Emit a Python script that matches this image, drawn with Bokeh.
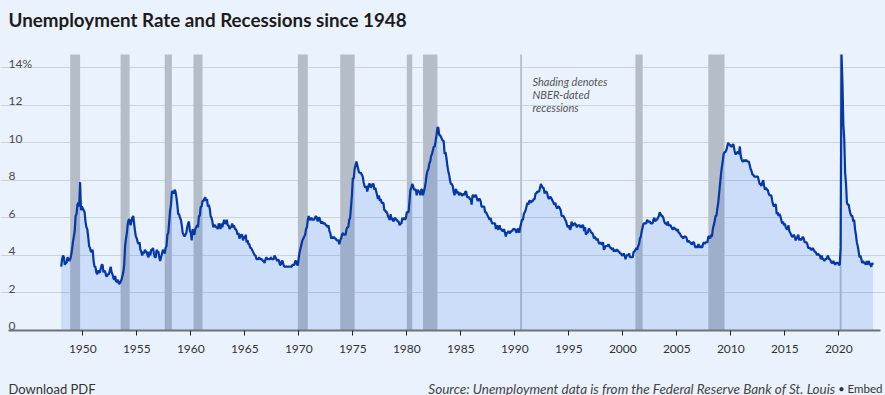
from bokeh.plotting import figure
from bokeh.models import Range1d, FixedTicker, Grid, Label, LinearAxis
from bokeh.embed import file_html
from bokeh.resources import INLINE
from bokeh.core.properties import value

# ---------------- data (monthly unemployment rate, %) ----------------
FIRST_YEAR = 1948
rate_1940s = [3.4, 3.8, 4.0, 3.9, 3.5, 3.6, 3.6, 3.9, 3.8, 3.7, 3.8, 4.0,
              4.3, 4.7, 5.0, 5.3, 6.1, 6.2, 6.7, 6.8, 6.6, 7.9, 6.4, 6.6]
rate_1950s = [6.5, 6.4, 6.3, 5.8, 5.5, 5.4, 5.0, 4.5, 4.4, 4.2, 4.2, 4.3,
              3.7, 3.4, 3.4, 3.1, 3.0, 3.2, 3.1, 3.1, 3.3, 3.5, 3.5, 3.1,
              3.2, 3.1, 2.9, 2.9, 3.0, 3.0, 3.2, 3.4, 3.1, 3.0, 2.8, 2.7,
              2.9, 2.6, 2.6, 2.7, 2.5, 2.5, 2.6, 2.7, 2.9, 3.1, 3.5, 4.5,
              4.9, 5.2, 5.7, 5.9, 5.9, 5.6, 5.8, 6.0, 6.1, 5.7, 5.3, 5.0,
              4.9, 4.7, 4.6, 4.7, 4.3, 4.2, 4.0, 4.2, 4.1, 4.3, 4.2, 4.2,
              4.0, 3.9, 4.2, 4.0, 4.3, 4.3, 4.4, 4.1, 3.9, 3.9, 4.3, 4.2,
              4.2, 3.9, 3.7, 3.9, 4.1, 4.3, 4.2, 4.1, 4.4, 4.5, 5.1, 5.2,
              5.8, 6.4, 6.7, 7.4, 7.4, 7.3, 7.5, 7.4, 7.1, 6.7, 6.2, 6.2,
              6.0, 5.9, 5.6, 5.2, 5.1, 5.0, 5.1, 5.2, 5.5, 5.7, 5.8, 5.3]
rate_1960s = [5.2, 4.8, 5.4, 5.2, 5.1, 5.4, 5.5, 5.6, 5.5, 6.1, 6.1, 6.6,
              6.6, 6.9, 6.9, 7.0, 7.1, 6.9, 7.0, 6.6, 6.7, 6.5, 6.1, 6.0,
              5.8, 5.5, 5.6, 5.6, 5.5, 5.5, 5.4, 5.7, 5.6, 5.4, 5.7, 5.5,
              5.7, 5.9, 5.7, 5.7, 5.9, 5.6, 5.6, 5.4, 5.5, 5.5, 5.7, 5.5,
              5.6, 5.4, 5.4, 5.3, 5.1, 5.2, 4.9, 5.0, 5.1, 5.1, 4.8, 5.0,
              4.9, 5.1, 4.7, 4.8, 4.6, 4.6, 4.4, 4.4, 4.3, 4.2, 4.1, 4.0,
              4.0, 3.8, 3.8, 3.8, 3.9, 3.8, 3.8, 3.8, 3.7, 3.7, 3.6, 3.8,
              3.9, 3.8, 3.8, 3.8, 3.8, 3.9, 3.8, 3.8, 3.8, 4.0, 3.9, 3.8,
              3.7, 3.8, 3.7, 3.5, 3.5, 3.7, 3.7, 3.5, 3.4, 3.4, 3.4, 3.4,
              3.4, 3.4, 3.4, 3.4, 3.4, 3.5, 3.5, 3.5, 3.7, 3.7, 3.5, 3.5]
rate_1970s = [3.9, 4.2, 4.4, 4.6, 4.8, 4.9, 5.0, 5.1, 5.4, 5.5, 5.9, 6.1,
              5.9, 5.9, 6.0, 5.9, 5.9, 5.9, 6.0, 6.1, 6.0, 5.8, 6.0, 6.0,
              5.8, 5.7, 5.8, 5.7, 5.7, 5.7, 5.6, 5.6, 5.5, 5.6, 5.3, 5.2,
              4.9, 5.0, 4.9, 5.0, 4.9, 4.9, 4.8, 4.8, 4.8, 4.6, 4.8, 4.9,
              5.1, 5.2, 5.1, 5.1, 5.1, 5.4, 5.5, 5.5, 5.9, 6.0, 6.6, 7.2,
              8.1, 8.1, 8.6, 8.8, 9.0, 8.8, 8.6, 8.4, 8.4, 8.4, 8.3, 8.2,
              7.9, 7.7, 7.6, 7.7, 7.4, 7.6, 7.8, 7.8, 7.6, 7.7, 7.8, 7.8,
              7.5, 7.6, 7.4, 7.2, 7.0, 7.2, 6.9, 7.0, 6.8, 6.8, 6.8, 6.4,
              6.4, 6.3, 6.3, 6.1, 6.0, 5.9, 6.2, 5.9, 6.0, 5.8, 5.9, 6.0,
              5.9, 5.9, 5.8, 5.8, 5.6, 5.7, 5.7, 6.0, 5.9, 6.0, 5.9, 6.0]
rate_1980s = [6.3, 6.3, 6.3, 6.9, 7.5, 7.6, 7.8, 7.7, 7.5, 7.5, 7.5, 7.2,
              7.5, 7.4, 7.4, 7.2, 7.5, 7.5, 7.2, 7.4, 7.6, 7.9, 8.3, 8.5,
              8.6, 8.9, 9.0, 9.3, 9.4, 9.6, 9.8, 9.8, 10.1, 10.4, 10.8, 10.8,
              10.4, 10.4, 10.3, 10.2, 10.1, 10.1, 9.4, 9.5, 9.2, 8.8, 8.5, 8.3,
              8.0, 7.8, 7.8, 7.7, 7.4, 7.2, 7.5, 7.5, 7.3, 7.4, 7.2, 7.3,
              7.3, 7.2, 7.2, 7.3, 7.2, 7.4, 7.4, 7.1, 7.1, 7.1, 7.0, 7.0,
              6.7, 7.2, 7.2, 7.1, 7.2, 7.2, 7.0, 6.9, 7.0, 7.0, 6.9, 6.6,
              6.6, 6.6, 6.6, 6.3, 6.3, 6.2, 6.1, 6.0, 5.9, 6.0, 5.8, 5.7,
              5.7, 5.7, 5.7, 5.4, 5.6, 5.4, 5.4, 5.6, 5.4, 5.4, 5.3, 5.3,
              5.4, 5.2, 5.0, 5.2, 5.2, 5.3, 5.2, 5.2, 5.3, 5.3, 5.4, 5.4]
rate_1990s = [5.4, 5.3, 5.2, 5.4, 5.4, 5.2, 5.5, 5.7, 5.9, 5.9, 6.2, 6.3,
              6.4, 6.6, 6.8, 6.7, 6.9, 6.9, 6.8, 6.9, 6.9, 7.0, 7.0, 7.3,
              7.3, 7.4, 7.4, 7.4, 7.6, 7.8, 7.7, 7.6, 7.6, 7.3, 7.4, 7.4,
              7.3, 7.1, 7.0, 7.1, 7.1, 7.0, 6.9, 6.8, 6.7, 6.8, 6.6, 6.5,
              6.6, 6.6, 6.5, 6.4, 6.1, 6.1, 6.1, 6.0, 5.9, 5.8, 5.6, 5.5,
              5.6, 5.4, 5.4, 5.8, 5.6, 5.6, 5.7, 5.7, 5.6, 5.5, 5.6, 5.6,
              5.6, 5.5, 5.5, 5.6, 5.6, 5.3, 5.5, 5.1, 5.2, 5.2, 5.4, 5.4,
              5.3, 5.2, 5.2, 5.1, 4.9, 5.0, 4.9, 4.8, 4.9, 4.7, 4.6, 4.7,
              4.6, 4.6, 4.7, 4.3, 4.4, 4.5, 4.5, 4.5, 4.6, 4.5, 4.4, 4.4,
              4.3, 4.4, 4.2, 4.3, 4.2, 4.3, 4.3, 4.2, 4.2, 4.1, 4.1, 4.0]
rate_2000s = [4.0, 4.1, 4.0, 3.8, 4.0, 4.0, 4.0, 4.1, 3.9, 3.9, 3.9, 3.9,
              4.2, 4.2, 4.3, 4.4, 4.3, 4.5, 4.6, 4.9, 5.0, 5.3, 5.5, 5.7,
              5.7, 5.7, 5.7, 5.9, 5.8, 5.8, 5.8, 5.7, 5.7, 5.7, 5.9, 6.0,
              5.8, 5.9, 5.9, 6.0, 6.1, 6.3, 6.2, 6.1, 6.1, 6.0, 5.8, 5.7,
              5.7, 5.6, 5.8, 5.6, 5.6, 5.6, 5.5, 5.4, 5.4, 5.5, 5.4, 5.4,
              5.3, 5.4, 5.2, 5.2, 5.1, 5.0, 5.0, 4.9, 5.0, 5.0, 5.0, 4.9,
              4.7, 4.8, 4.7, 4.7, 4.6, 4.6, 4.7, 4.7, 4.5, 4.4, 4.5, 4.4,
              4.6, 4.5, 4.4, 4.5, 4.4, 4.6, 4.7, 4.6, 4.7, 4.7, 4.7, 5.0,
              5.0, 4.9, 5.1, 5.0, 5.4, 5.6, 5.8, 6.1, 6.1, 6.5, 6.8, 7.3,
              7.8, 8.3, 8.7, 9.0, 9.4, 9.5, 9.5, 9.6, 9.8, 10.0, 9.9, 9.9]
rate_2010s = [9.8, 9.8, 9.9, 9.9, 9.6, 9.4, 9.4, 9.5, 9.5, 9.4, 9.8, 9.3,
              9.1, 9.0, 9.0, 9.1, 9.0, 9.1, 9.0, 9.0, 9.0, 8.8, 8.6, 8.5,
              8.3, 8.3, 8.2, 8.2, 8.2, 8.2, 8.2, 8.0, 7.8, 7.8, 7.7, 7.9,
              8.0, 7.7, 7.5, 7.6, 7.5, 7.5, 7.3, 7.2, 7.2, 7.2, 6.9, 6.7,
              6.6, 6.7, 6.7, 6.2, 6.3, 6.1, 6.2, 6.1, 5.9, 5.7, 5.8, 5.6,
              5.7, 5.5, 5.4, 5.4, 5.6, 5.3, 5.2, 5.1, 5.0, 5.0, 5.1, 5.0,
              4.8, 4.9, 5.0, 5.1, 4.8, 4.9, 4.8, 4.9, 5.0, 4.9, 4.7, 4.7,
              4.7, 4.6, 4.4, 4.4, 4.4, 4.3, 4.3, 4.4, 4.3, 4.2, 4.2, 4.1,
              4.0, 4.1, 4.0, 4.0, 3.8, 4.0, 3.8, 3.8, 3.7, 3.8, 3.8, 3.9,
              4.0, 3.8, 3.8, 3.7, 3.6, 3.6, 3.7, 3.6, 3.5, 3.6, 3.6, 3.6]
rate_2020s = [3.5, 3.5, 4.4, 14.7, 13.2, 11.0, 10.2, 8.4, 7.8, 6.8, 6.7, 6.7,
              6.4, 6.2, 6.1, 6.1, 5.8, 5.9, 5.4, 5.1, 4.7, 4.5, 4.2, 3.9,
              4.0, 3.8, 3.6, 3.7, 3.6, 3.6, 3.5, 3.7, 3.5, 3.7, 3.6, 3.5,
              3.4, 3.6, 3.5]

# NBER-dated recessions (shaded), peak month -> trough month as drawn
recession_start = ["1948-11", "1953-07", "1957-08", "1960-04", "1969-12", "1973-11",
                   "1980-01", "1981-07", "1990-07", "2001-03", "2007-12", "2020-02"]
recession_end = ["1949-10", "1954-05", "1958-04", "1961-02", "1970-11", "1975-03",
                 "1980-07", "1982-11", "1990-09", "2001-11", "2009-06", "2020-04"]

x_ticks = [1950, 1955, 1960, 1965, 1970, 1975, 1980, 1985, 1990, 1995, 2000, 2005, 2010, 2015, 2020]
y_ticks = [0, 2, 4, 6, 8, 10, 12, 14]
y_tick_labels = ["0", "2", "4", "6", "8", "10", "12", "14%"]

TITLE = "Unemployment Rate and Recessions since 1948"
NOTE = "Shading denotes\nNBER-dated\nrecessions"
LEFT_FOOT = "Download PDF"
SOURCE = "Source: Unemployment data is from the Federal Reserve Bank of St. Louis"
EMBED = "Embed"

# ---------------- derived ----------------
rates = (rate_1940s + rate_1950s + rate_1960s + rate_1970s + rate_1980s
         + rate_1990s + rate_2000s + rate_2010s + rate_2020s)
dates = [FIRST_YEAR + i / 12.0 for i in range(len(rates))]


def to_year(s):
    y, m = s.split("-")
    return int(y) + (int(m) - 1) / 12.0


rec_left = [to_year(s) for s in recession_start]
rec_right = [to_year(s) for s in recession_end]

# ---------------- style ----------------
BG = "#EAF2FD"
BAR = "#B5BDC8"
AREA = "#1E64DC"
LINE = "#0437A8"
GRID = "#CDD3DC"
FONT = "Lato"

W, H = 885, 395
y_top = max(rates)
# the plotting region (data from 1943.1 to 2023.9, 0 to 14.7) sits inside a canvas-wide frame
x_range = Range1d(1942.38, 2024.32)
y_range = Range1d(-3.462, 17.575)
plot_left, plot_right = 1943.12, 2023.86

p = figure(width=W, height=H, x_range=x_range, y_range=y_range,
           output_backend="svg", toolbar_location=None,
           x_axis_location=None, y_axis_location=None,
           min_border=0, min_border_left=0, min_border_right=0,
           min_border_top=0, min_border_bottom=0,
           background_fill_color=BG, border_fill_color=BG, outline_line_color=None)

for g in p.grid:
    g.visible = False
p.add_layout(Grid(dimension=1, ticker=FixedTicker(ticks=y_ticks[1:]),
                  bounds=(plot_left, plot_right),
                  grid_line_color=GRID, grid_line_width=1))

# x axis pinned at y = 0
ax = LinearAxis(fixed_location=0, bounds=(plot_left, plot_right),
                ticker=FixedTicker(ticks=x_ticks))
ax.axis_line_color = "#6E7379"
ax.axis_line_width = 2
ax.major_tick_line_color = "#222222"
ax.major_tick_out = 5
ax.major_tick_in = 0
ax.minor_tick_line_color = None
ax.major_label_text_font = FONT
ax.major_label_text_font_size = "12px"
ax.major_label_text_color = "#333333"
ax.major_label_standoff = 10
p.add_layout(ax, "below")

# recession bars, area, line
p.quad(left=rec_left, right=rec_right, bottom=0, top=y_top, fill_color=BAR, line_color=None)
p.varea(x=dates, y1=0, y2=rates, fill_color=AREA, fill_alpha=0.15)
p.line(x=dates, y=rates, line_color=LINE, line_width=2.2)

# y tick labels above gridlines
p.text(x=[plot_left] * len(y_ticks), y=y_ticks, text=y_tick_labels,
       text_font=value(FONT), text_font_size="12px", text_color="#4A4A4A",
       text_align="left", text_baseline="alphabetic", y_offset=-4)

# note
p.add_layout(Label(x=1991.64, y=13.61, text=NOTE, text_font=FONT, text_font_style="italic",
                   text_font_size="11px", text_color="#555555", text_baseline="top",
                   text_align="left", text_line_height=1.02))

# title and footer (screen units: from frame left / frame bottom)
p.add_layout(Label(x=8, y=H - 18.5, x_units="screen", y_units="screen", text=TITLE,
                   text_font=FONT, text_font_style="bold", text_font_size="18.8px",
                   text_color="#1C1C1C", text_baseline="alphabetic", text_align="left"))
p.add_layout(Label(x=8, y=H - 388, x_units="screen", y_units="screen", text=LEFT_FOOT,
                   text_font=FONT, text_font_size="13px", text_color="#333333",
                   text_baseline="alphabetic", text_align="left"))
p.add_layout(Label(x=835, y=H - 388, x_units="screen", y_units="screen", text=SOURCE,
                   text_font=FONT, text_font_style="italic", text_font_size="13.5px",
                   text_color="#444444", text_baseline="alphabetic", text_align="right"))
p.add_layout(Label(x=841, y=H - 388, x_units="screen", y_units="screen", text="\u2022",
                   text_font=FONT, text_font_size="11px", text_color="#333333",
                   text_baseline="alphabetic", text_align="center"))
p.add_layout(Label(x=847, y=H - 388, x_units="screen", y_units="screen", text=EMBED,
                   text_font=FONT, text_font_size="11.5px", text_color="#333333",
                   text_baseline="alphabetic", text_align="left"))

html = file_html(p, INLINE, title="Unemployment Rate and Recessions since 1948")
html = html.replace("<head>", "<head><style>html,body{background:#EAF2FD;}</style>", 1)
open("out.html", "w").write(html)
